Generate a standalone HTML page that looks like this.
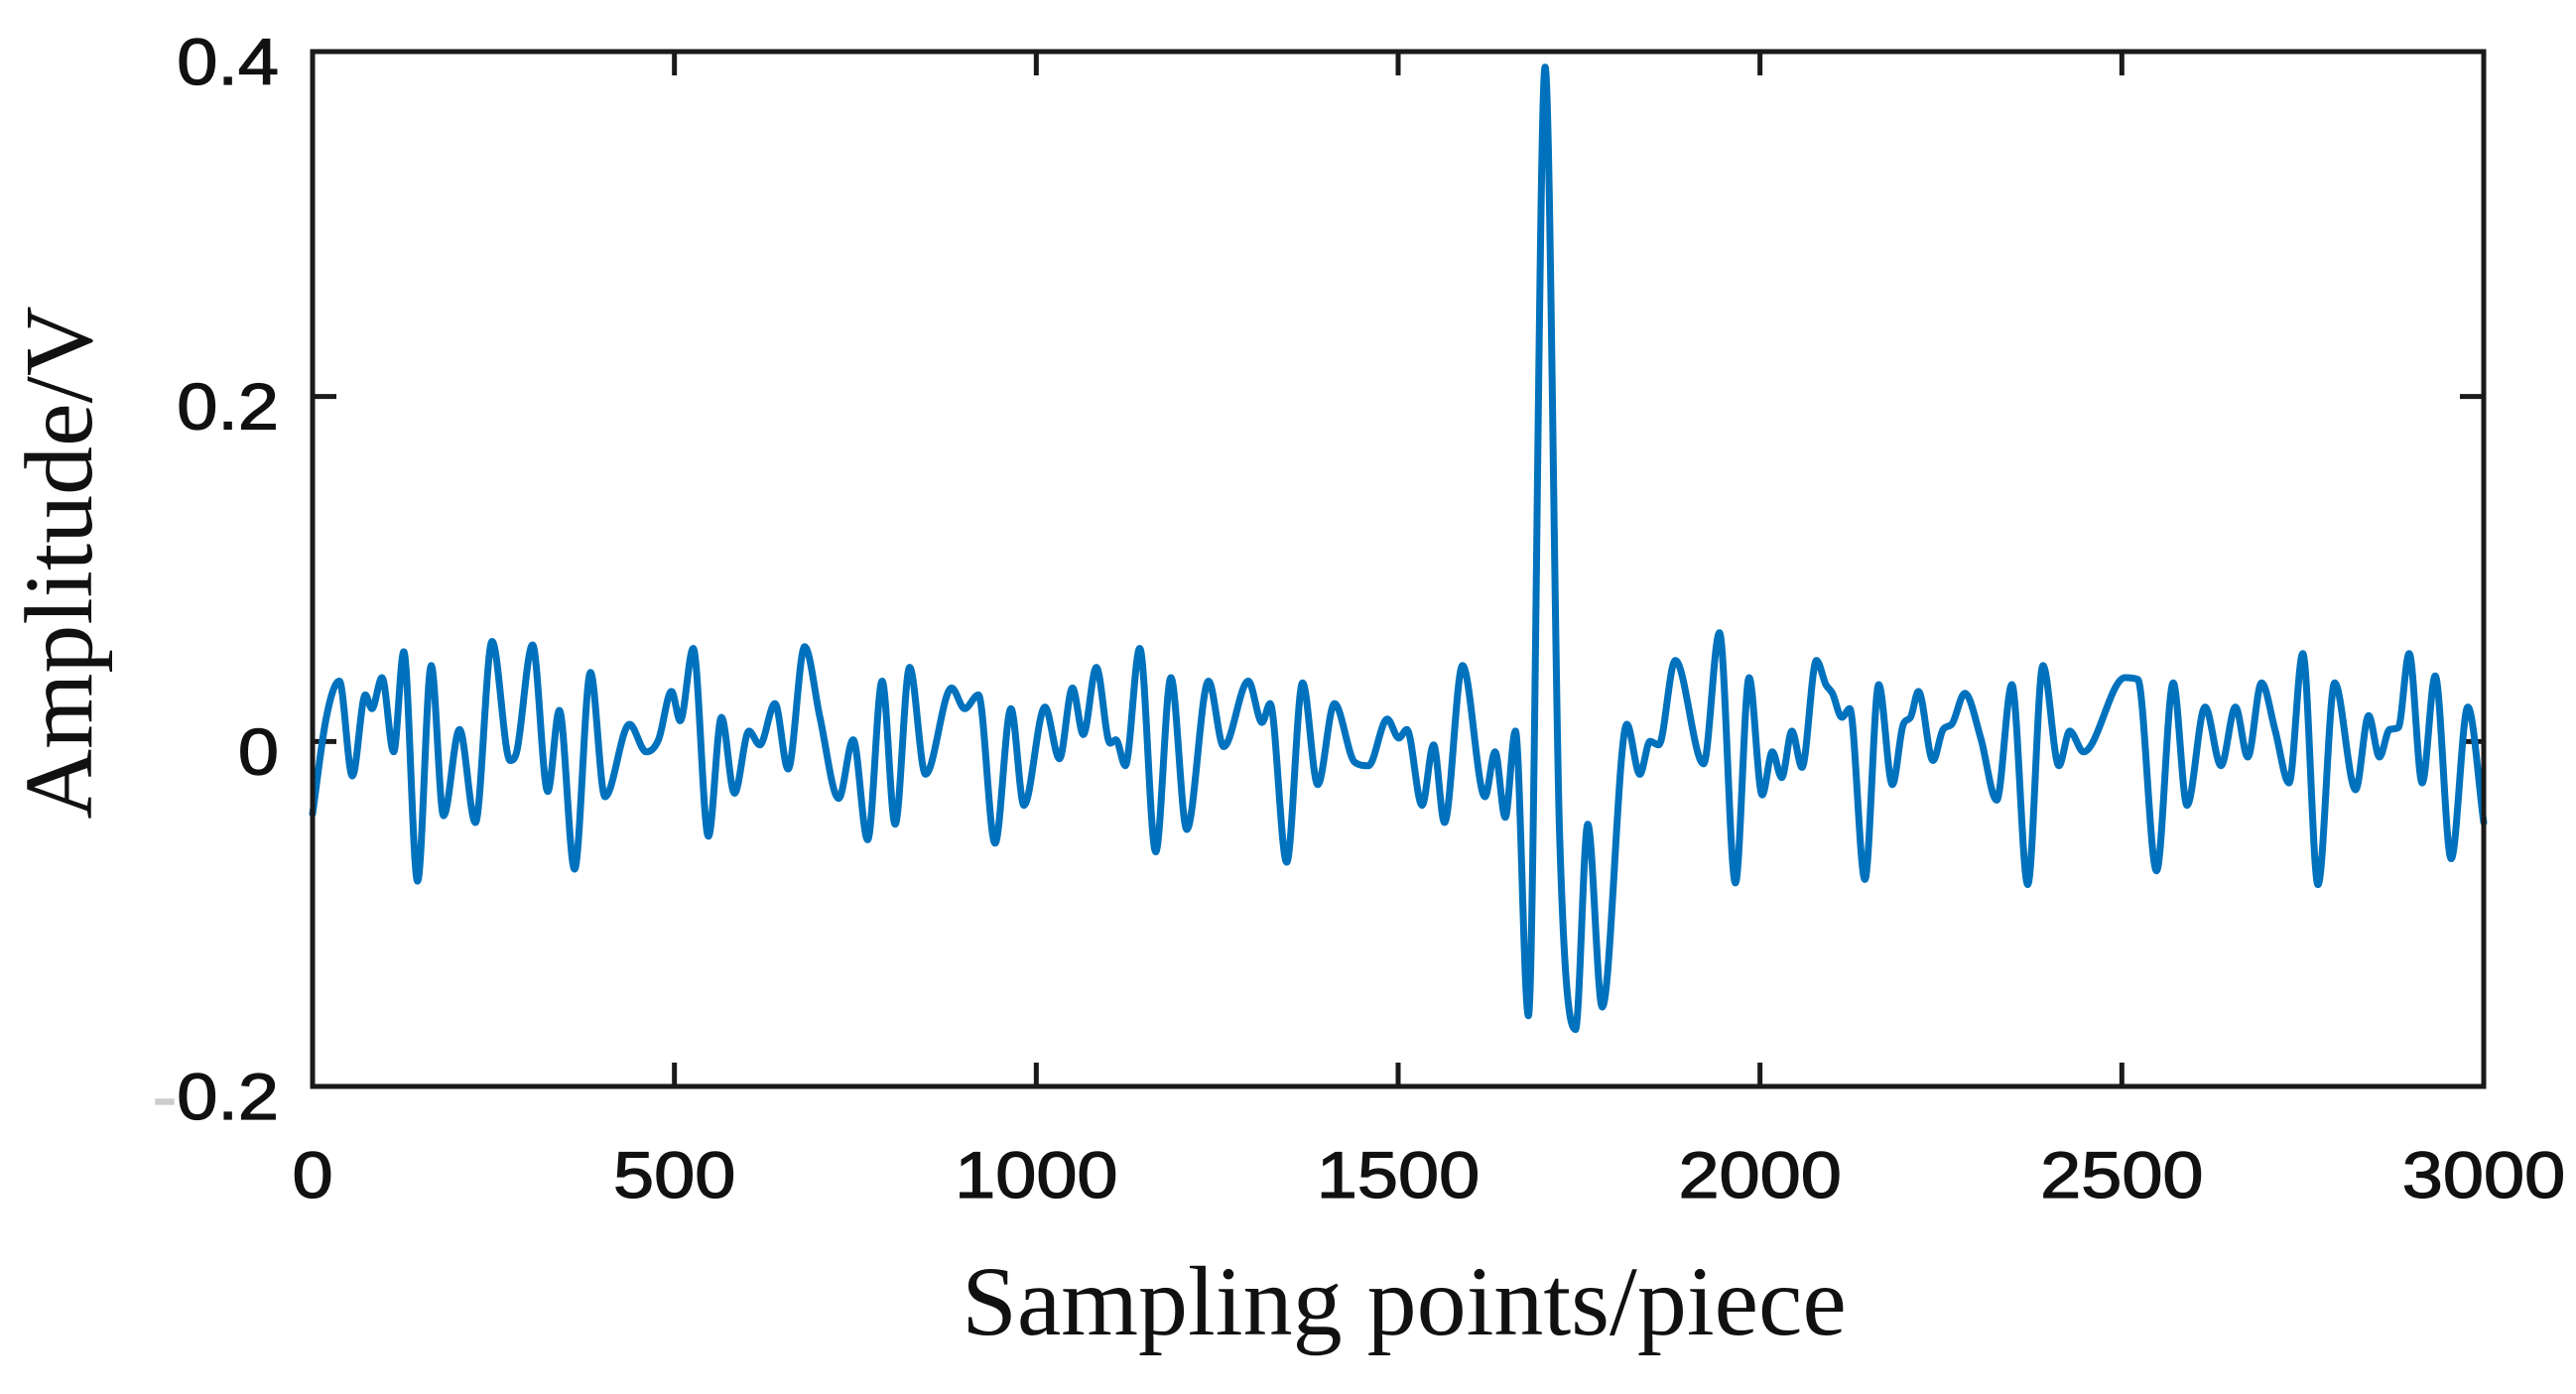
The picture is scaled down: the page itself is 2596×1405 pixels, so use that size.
<!DOCTYPE html>
<html><head><meta charset="utf-8"><style>
html,body{margin:0;padding:0;background:#fff;}
svg{display:block;}
</style></head><body>
<svg id="chart" width="2596" height="1405" viewBox="0 0 2596 1405" xmlns="http://www.w3.org/2000/svg">
<rect x="0" y="0" width="2596" height="1405" fill="#fff"/>
<g id="ticks"></g>
<g id="labels"></g>
<path id="series" fill="none" stroke="#0072BD" stroke-width="7" stroke-linejoin="round" stroke-linecap="round"/>
<rect x="315" y="52" width="2188" height="1043" fill="none" stroke="#1a1a1a" stroke-width="5"/>
<text x="92" y="567" transform="rotate(-90 92 567)" text-anchor="middle" font-family="Liberation Serif, serif" font-size="98" fill="#111">Amplitude/V</text>
<text x="1415" y="1345" text-anchor="middle" font-family="Liberation Serif, serif" font-size="100" fill="#111">Sampling points/piece</text>
</svg>
<script>
const xTicks = [0, 500, 1000, 1500, 2000, 2500, 3000];
const xTickLabels = ["0", "500", "1000", "1500", "2000", "2500", "3000"];
const yTicks = [0.4, 0.2, 0, -0.2];
const yTickLabels = ["0.4", "0.2", "0", "-0.2"];
const sampleX = [0,19,37,55,73,82,96,112,126,145,164,181,203,225,248,273,282,304,325,341,362,384,404,438,461,478,496,508,526,547,565,583,603,618,639,657,680,701,727,747,767,787,805,825,847,883,901,920,943,965,983,1012,1032,1050,1065,1083,1102,1110,1123,1143,1165,1186,1208,1238,1259,1293,1312,1323,1346,1368,1389,1412,1440,1459,1485,1501,1512,1533,1549,1564,1589,1620,1634,1648,1662,1680,1703,1723,1745,1762,1782,1816,1834,1848,1860,1883,1922,1944,1966,1985,2003,2017,2030,2044,2058,2078,2091,2100,2113,2124,2145,2164,2183,2198,2208,2219,2239,2253,2265,2283,2305,2327,2348,2370,2391,2413,2428,2447,2504,2522,2548,2571,2590,2615,2637,2657,2674,2693,2712,2731,2750,2771,2794,2823,2841,2856,2870,2882,2897,2915,2933,2955,2978,3000];
const amplitude = [-0.042,0.014,0.035,-0.020,0.027,0.019,0.037,-0.006,0.052,-0.081,0.044,-0.043,0.007,-0.047,0.058,-0.011,-0.006,0.056,-0.029,0.018,-0.074,0.040,-0.032,0.010,-0.006,0.001,0.029,0.012,0.054,-0.055,0.014,-0.030,0.006,-0.002,0.022,-0.016,0.055,0.014,-0.033,0.001,-0.057,0.035,-0.048,0.043,-0.019,0.031,0.019,0.027,-0.059,0.019,-0.037,0.020,-0.010,0.031,0.004,0.043,-0.001,0.001,-0.014,0.054,-0.064,0.037,-0.051,0.035,-0.003,0.035,0.011,0.022,-0.070,0.034,-0.025,0.022,-0.012,-0.014,0.013,0.002,0.007,-0.037,-0.002,-0.047,0.044,-0.032,-0.006,-0.044,0.006,-0.159,0.391,-0.052,-0.167,-0.048,-0.154,0.010,-0.019,0.000,-0.002,0.047,-0.013,0.063,-0.082,0.037,-0.031,-0.006,-0.021,0.006,-0.015,0.047,0.033,0.028,0.014,0.019,-0.080,0.033,-0.025,0.010,0.014,0.029,-0.011,0.007,0.010,0.028,0.002,-0.034,0.033,-0.083,0.044,-0.014,0.006,-0.006,0.037,0.036,-0.075,0.034,-0.037,0.020,-0.014,0.020,-0.009,0.034,0.006,-0.024,0.051,-0.083,0.034,-0.028,0.015,-0.009,0.007,0.008,0.051,-0.024,0.038,-0.068,0.020,-0.047];

const L = 315, R = 2503, T = 52, B = 1095;
const xMin = 0, xMax = 3000, yMin = -0.2, yMax = 0.4;
function sx(v){ return L + (v - xMin) / (xMax - xMin) * (R - L); }
function sy(v){ return B - (v - yMin) / (yMax - yMin) * (B - T); }
const NS = "http://www.w3.org/2000/svg";
const tickG = document.getElementById('ticks');
const labG = document.getElementById('labels');
const TL = 24;
function line(x1,y1,x2,y2,name){
  const l = document.createElementNS(NS,'line');
  l.setAttribute('x1',x1); l.setAttribute('y1',y1); l.setAttribute('x2',x2); l.setAttribute('y2',y2);
  l.setAttribute('stroke','#1a1a1a'); l.setAttribute('stroke-width','5');
  
  
  tickG.appendChild(l);
}
function label(x,y,txt,anchor,name){
  const t = document.createElementNS(NS,'text');
  t.setAttribute('x',0); t.setAttribute('y',0);
  t.setAttribute('transform','translate('+x+','+y+') scale(1.12,1)');
  t.setAttribute('text-anchor',anchor);
  t.setAttribute('font-family','Liberation Sans, sans-serif');
  t.setAttribute('font-size','66');
  t.setAttribute('fill','#111');
  t.setAttribute('stroke','#111');
  t.setAttribute('stroke-width','1.2');
  if (txt.charAt(0) === '-') {
    const m = document.createElementNS(NS,'tspan');
    m.setAttribute('fill','#ccc'); m.setAttribute('stroke','#ccc');
    m.textContent = '-';
    t.appendChild(m);
    t.appendChild(document.createTextNode(txt.slice(1)));
  } else {
    t.textContent = txt;
  }
  
  
  labG.appendChild(t);
}
xTicks.forEach((v,i)=>{
  const x = sx(v);
  line(x,B,x,B-TL,'x-tick');
  line(x,T,x,T+TL,'x-tick-top');
  label(x,1207,xTickLabels[i],'middle','x-tick-label');
});
yTicks.forEach((v,i)=>{
  const y = sy(v);
  line(L,y,L+TL,y,'y-tick');
  line(R,y,R-TL,y,'y-tick-right');
  label(281,y+33,yTickLabels[i],'end','y-tick-label');
});

(function(){
  const n = sampleX.length;
  const px = sampleX.map(sx), py = amplitude.map(sy);
  const d = [], m = new Array(n);
  for(let i=0;i<n-1;i++) d.push((py[i+1]-py[i])/(px[i+1]-px[i]));
  m[0]=d[0]; m[n-1]=d[n-2];
  for(let i=1;i<n-1;i++){
    if(d[i-1]*d[i]<=0) m[i]=0; else m[i]=(d[i-1]+d[i])/2;
  }
  for(let i=0;i<n-1;i++){
    if(d[i]===0){m[i]=0;m[i+1]=0;continue;}
    const a=m[i]/d[i], b=m[i+1]/d[i], s=a*a+b*b;
    if(s>9){const t=3/Math.sqrt(s); m[i]=t*a*d[i]; m[i+1]=t*b*d[i];}
  }
  let p = 'M'+px[0].toFixed(1)+','+py[0].toFixed(1);
  for(let i=0;i<n-1;i++){
    const h = (px[i+1]-px[i])/3;
    p += ' C'+(px[i]+h).toFixed(1)+','+(py[i]+m[i]*h).toFixed(1)+' '+(px[i+1]-h).toFixed(1)+','+(py[i+1]-m[i+1]*h).toFixed(1)+' '+px[i+1].toFixed(1)+','+py[i+1].toFixed(1);
  }
  document.getElementById('series').setAttribute('d',p);
})();
</script>
</body></html>
